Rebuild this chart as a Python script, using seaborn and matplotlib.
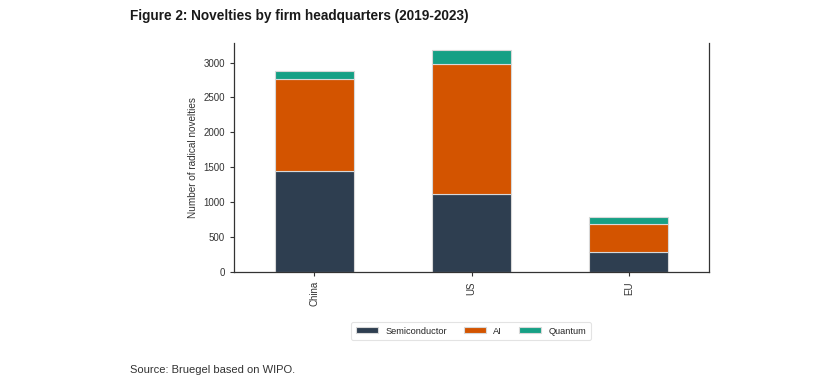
import matplotlib
matplotlib.use("Agg")
import matplotlib.pyplot as plt
import seaborn as sns
import pandas as pd
import numpy as np

regions = ["China", "US", "EU"]
semiconductor = [1440, 1120, 290]
ai = [1325, 1855, 400]
quantum = [120, 210, 100]
series_names = ["Semiconductor", "AI", "Quantum"]
colors = ["#2e3e50", "#d35400", "#16a085"]

sns.set_theme(style="white")
plt.rcParams['font.family'] = ['Liberation Sans', 'DejaVu Sans']

fig = plt.figure(figsize=(8.36, 3.87), dpi=100)
ax = fig.add_axes([234/836, 1-272/387, (709-234)/836, (272-43)/387])

bottom = np.zeros(len(regions))
for name, vals, col in zip(series_names, [semiconductor, ai, quantum], colors):
    df = pd.DataFrame({"region": regions, "value": vals})
    sns.barplot(data=df, x="region", y="value", color=col, bottom=bottom,
                width=0.5, ax=ax, label=name, edgecolor="#d8d8d8", linewidth=0.8,
                saturation=1, legend=False)
    bottom = bottom + np.array(vals)

handles, labels = ax.get_legend_handles_labels()
if ax.get_legend() is not None:
    ax.get_legend().remove()

ax.set_xlim(-0.51, 2.51)
ax.set_ylim(0, 3280)
ax.set_yticks([0, 500, 1000, 1500, 2000, 2500, 3000])
ax.set_xlabel("")
ax.set_ylabel("Number of radical novelties", fontsize=7.2, color="#333333")
ax.tick_params(axis="both", labelsize=7, colors="#333333", length=3, width=0.8,
               left=True, bottom=True)
plt.setp(ax.get_xticklabels(), rotation=90)
for s in ["left", "bottom", "right"]:
    ax.spines[s].set_color("#333333")
    ax.spines[s].set_linewidth(0.9)
ax.spines["top"].set_visible(False)

leg = fig.legend(handles, labels, loc="center", bbox_to_anchor=(471/836, 1-331/387),
                 ncol=3, fontsize=6.7, frameon=True, handlelength=2.4,
                 handleheight=0.6, columnspacing=1.8, borderpad=0.5, handletextpad=0.8)
leg.get_frame().set_edgecolor("#dddddd")
leg.get_frame().set_linewidth(0.8)

fig.text(130/836, 1-16/387, "Figure 2: Novelties by firm headquarters (2019-2023)",
         fontsize=9.8, fontweight="bold", va="center", ha="left", color="#1a1a1a")
fig.text(130/836, 1-370/387, "Source: Bruegel based on WIPO.",
         fontsize=8, va="center", ha="left", color="#333333")

fig.savefig("out.png", dpi=100)
